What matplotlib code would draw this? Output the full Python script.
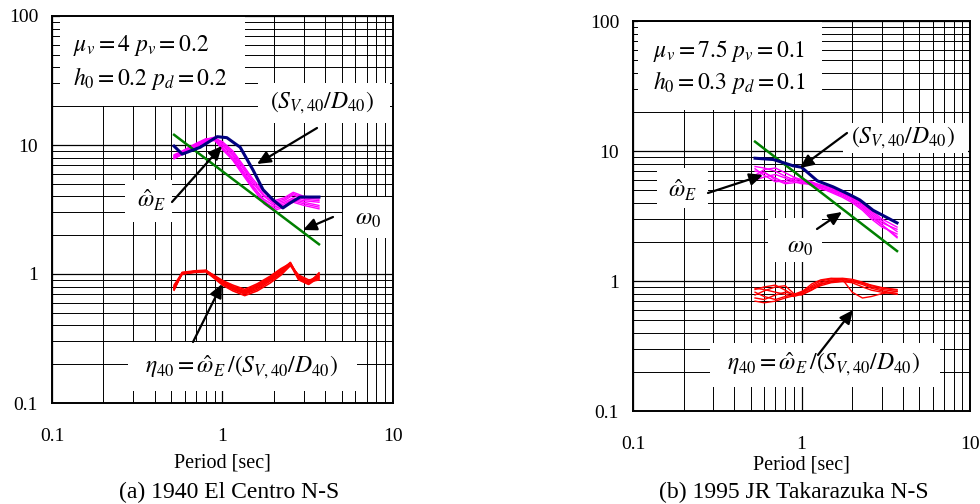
import matplotlib
matplotlib.use("Agg")
import matplotlib.pyplot as plt
from matplotlib.patches import Rectangle, FancyArrowPatch
from matplotlib.ticker import LogLocator, NullFormatter

plt.rcParams['font.family'] = ['Liberation Serif', 'DejaVu Serif']
plt.rcParams['mathtext.fontset'] = 'stix'

# ---------------- data: (a) 1940 El Centro N-S ----------------
a_green_T = [0.52, 3.68]
a_green_v = [12.0, 1.70]

a_blue_T = [0.52, 0.58, 0.74, 0.93, 1.06, 1.27, 1.51, 1.73, 1.98, 2.26, 2.49, 2.85, 3.68]
a_blue_v = [9.8, 8.5, 9.6, 11.6, 11.4, 9.6, 6.4, 4.5, 3.75, 3.25, 3.55, 3.95, 3.95]

a_mag_T = [0.52, 0.6, 0.7, 0.8, 0.9, 1.0, 1.15, 1.3, 1.5, 1.75, 2.0, 2.3, 2.6, 3.0, 3.68]
a_mag_1 = [7.8, 8.7, 9.9, 11.0, 11.4, 10.3, 8.8, 7.0, 5.3, 4.1, 3.6, 3.8, 4.2, 3.9, 3.8]
a_mag_2 = [8.2, 9.0, 10.1, 10.9, 11.0, 9.6, 8.0, 6.3, 4.8, 3.8, 3.4, 3.6, 3.9, 3.7, 3.6]
a_mag_3 = [8.4, 9.2, 10.3, 11.2, 11.0, 9.2, 7.6, 6.0, 4.6, 3.6, 3.3, 3.5, 3.8, 3.6, 3.4]
a_mag_4 = [7.9, 8.6, 9.6, 10.6, 11.3, 10.6, 9.0, 7.2, 5.5, 4.3, 3.7, 3.9, 4.3, 4.0, 3.9]
a_mag_5 = [8.1, 8.9, 9.8, 10.7, 11.1, 9.9, 8.3, 6.5, 4.9, 3.7, 3.2, 3.4, 3.7, 3.5, 3.3]
a_mag_6 = [8.0, 8.8, 10.0, 11.1, 11.5, 10.1, 8.5, 6.8, 5.1, 4.0, 3.5, 3.7, 4.1, 3.8, 3.7]
a_mag_7 = [8.3, 9.1, 10.2, 10.8, 10.8, 9.4, 7.8, 6.2, 4.7, 3.5, 3.1, 3.3, 3.6, 3.4, 3.2]

a_red_T = [0.52, 0.58, 0.7, 0.8, 0.9, 1.0, 1.15, 1.35, 1.6, 1.9, 2.2, 2.5, 2.8, 3.2, 3.68]
a_red_1 = [0.75, 1.02, 1.05, 1.06, 0.95, 0.86, 0.78, 0.72, 0.80, 0.92, 1.05, 1.20, 0.92, 0.88, 0.98]
a_red_2 = [0.80, 1.00, 1.04, 1.05, 0.93, 0.84, 0.76, 0.70, 0.76, 0.88, 1.00, 1.22, 0.95, 0.85, 1.00]
a_red_3 = [0.78, 1.03, 1.06, 1.07, 0.96, 0.88, 0.80, 0.74, 0.82, 0.94, 1.08, 1.18, 0.90, 0.83, 0.94]
a_red_4 = [0.76, 1.01, 1.03, 1.04, 0.92, 0.82, 0.74, 0.68, 0.74, 0.85, 0.98, 1.16, 0.98, 0.90, 0.92]
a_red_5 = [0.82, 1.02, 1.05, 1.06, 0.97, 0.89, 0.82, 0.76, 0.84, 0.96, 1.10, 1.21, 0.93, 0.86, 0.96]
a_red_6 = [0.77, 1.00, 1.04, 1.05, 0.94, 0.85, 0.77, 0.71, 0.78, 0.90, 1.03, 1.19, 0.96, 0.87, 0.90]
a_red_7 = [0.79, 1.01, 1.05, 1.06, 0.95, 0.87, 0.79, 0.73, 0.81, 0.91, 1.06, 1.23, 0.91, 0.84, 1.02]

# ---------------- data: (b) 1995 JR Takarazuka N-S ----------------
b_green_T = [0.53, 3.69]
b_green_v = [11.8, 1.70]

b_blue_T = [0.53, 0.68, 0.89, 1.0, 1.24, 1.54, 1.94, 2.22, 2.66, 3.69]
b_blue_v = [8.8, 8.6, 7.7, 7.5, 5.9, 5.3, 4.6, 4.2, 3.5, 2.8]

b_mag_T = [0.53, 0.6, 0.7, 0.8, 0.9, 1.0, 1.15, 1.3, 1.5, 1.75, 2.0, 2.3, 2.6, 3.0, 3.69]
b_mag_1 = [7.6, 7.4, 7.0, 6.4, 6.0, 5.7, 5.5, 5.3, 5.0, 4.7, 4.3, 3.8, 3.3, 2.8, 2.5]
b_mag_2 = [6.0, 6.3, 6.6, 6.2, 5.8, 5.6, 5.6, 5.4, 5.1, 4.7, 4.4, 3.9, 3.4, 2.9, 2.4]
b_mag_3 = [7.0, 6.8, 6.2, 5.7, 5.9, 6.1, 5.8, 5.4, 4.9, 4.5, 4.1, 3.6, 3.1, 2.7, 2.2]
b_mag_4 = [6.5, 7.2, 7.4, 6.8, 6.3, 6.0, 5.6, 5.2, 4.8, 4.4, 4.0, 3.5, 3.0, 2.6, 2.3]
b_mag_5 = [7.3, 6.5, 5.8, 5.9, 6.2, 5.9, 5.4, 5.1, 4.9, 4.6, 4.2, 3.7, 3.2, 2.7, 2.15]
b_mag_6 = [6.3, 6.9, 6.0, 5.6, 5.7, 5.8, 5.7, 5.5, 5.2, 4.8, 4.5, 4.0, 3.5, 3.0, 2.6]

b_red_T = [0.53, 0.6, 0.7, 0.8, 0.9, 1.0, 1.15, 1.3, 1.5, 1.75, 2.0, 2.3, 2.6, 3.0, 3.69]
b_red_1 = [0.86, 0.90, 0.93, 0.85, 0.78, 0.80, 0.92, 1.00, 1.04, 1.05, 1.03, 0.98, 0.92, 0.88, 0.85]
b_red_2 = [0.70, 0.68, 0.70, 0.74, 0.77, 0.82, 0.95, 1.02, 1.05, 1.04, 1.00, 0.96, 0.90, 0.86, 0.83]
b_red_3 = [0.78, 0.84, 0.90, 0.92, 0.80, 0.78, 0.85, 0.94, 1.00, 1.02, 1.01, 0.97, 0.93, 0.89, 0.86]
b_red_4 = [0.74, 0.72, 0.78, 0.82, 0.79, 0.83, 0.90, 0.97, 1.02, 1.03, 0.82, 0.74, 0.76, 0.80, 0.83]
b_red_5 = [0.82, 0.76, 0.72, 0.76, 0.78, 0.81, 0.88, 0.95, 0.98, 1.00, 0.99, 0.94, 0.88, 0.84, 0.80]
b_red_6 = [0.88, 0.86, 0.82, 0.79, 0.76, 0.79, 0.86, 0.92, 0.97, 0.99, 0.97, 0.90, 0.85, 0.82, 0.79]

tick_vals = [0.1, 1, 10]
tick_labels = ["0.1", "1", "10"]
ytick_vals = [0.1, 1, 10, 100]
ytick_labels = ["0.1", "1", "10", "100"]

W, H = 980, 504
fig = plt.figure(figsize=(W / 100, H / 100), dpi=100)

MATH = 17


def fx(x):
    return x / W


def fy(y):
    return 1 - y / H


def make_axes(x0, y0, x1, y1):
    ax = fig.add_axes([fx(x0), fy(y1), fx(x1) - fx(x0), fy(y0) - fy(y1)])
    ax.set_xscale('log')
    ax.set_yscale('log')
    ax.set_xlim(0.1, 10)
    ax.set_ylim(0.1, 100)
    ax.set_axisbelow(True)
    ax.set_xticks(tick_vals)
    ax.set_xticklabels(tick_labels)
    ax.set_yticks(ytick_vals)
    ax.set_yticklabels(ytick_labels)
    ax.xaxis.set_minor_locator(LogLocator(base=10, subs=range(2, 10), numticks=20))
    ax.yaxis.set_minor_locator(LogLocator(base=10, subs=range(2, 10), numticks=20))
    ax.xaxis.set_minor_formatter(NullFormatter())
    ax.yaxis.set_minor_formatter(NullFormatter())
    ax.grid(True, which='major', color='black', lw=0.9)
    ax.grid(True, which='minor', color='black', lw=0.7)
    ax.tick_params(which='both', length=0, labelsize=14)
    ax.tick_params(axis='x', pad=18)
    ax.tick_params(axis='y', pad=10)
    for s in ax.spines.values():
        s.set_linewidth(1.4)
        s.set_color('black')
    return ax


def box(ax, x0, y0, x1, y1):
    ax.add_patch(Rectangle((fx(x0), fy(y1)), fx(x1) - fx(x0), fy(y0) - fy(y1),
                           transform=fig.transFigure, facecolor='white',
                           edgecolor='none', zorder=1))


def label(x, y, s, size=MATH, ha='center'):
    fig.text(fx(x), fy(y), s, ha=ha, va='center', fontsize=size, zorder=5)


def arrow(x0, y0, x1, y1):
    fig.add_artist(FancyArrowPatch(
        (fx(x0), fy(y0)), (fx(x1), fy(y1)), transform=fig.transFigure,
        arrowstyle='-|>,head_length=5,head_width=2.3', color='black',
        lw=1.6, mutation_scale=1.6, shrinkA=0, shrinkB=0, zorder=6))


# ---------------- panel (a) ----------------
axa = make_axes(52, 16, 393, 403)
for v in [a_mag_1, a_mag_2, a_mag_3, a_mag_4, a_mag_5, a_mag_6, a_mag_7]:
    axa.plot(a_mag_T, v, color='#FF00FF', lw=1.0, zorder=2)
for v in [a_red_1, a_red_2, a_red_3, a_red_4, a_red_5, a_red_6, a_red_7]:
    axa.plot(a_red_T, v, color='#FF0000', lw=1.2, zorder=2)
axa.plot(a_green_T, a_green_v, color='#008000', lw=1.8, zorder=2.1)
axa.plot(a_blue_T, a_blue_v, color='#000080', lw=2.2, zorder=2.2)

box(axa, 60, 14, 245, 106)
box(axa, 258, 83, 390, 123)
box(axa, 125, 180, 172, 222)
box(axa, 343, 197, 393, 238)
box(axa, 128, 342, 357, 391)

label(73, 45, r'$\mu_v = 4\ p_v = 0.2$', ha='left')
label(73, 78, r'$h_0 = 0.2\ p_d = 0.2$', ha='left')
label(322, 103, r'$\left(S_{V,40}/D_{40}\right)$')
label(152, 200, r'$\hat{\omega}_E$')
label(368, 219, r'$\omega_0$')
label(242, 367, r'$\eta_{40} = \hat{\omega}_E\,/\left(S_{V,40}/D_{40}\right)$')

arrow(317, 128, 257, 164)
arrow(172, 202, 222, 146)
arrow(333, 217, 303, 230)
arrow(193, 342, 222, 284)

label(222, 463, 'Period [sec]', size=14.5)
label(229, 492, '(a) 1940 El Centro N-S', size=17)

# ---------------- panel (b) ----------------
axb = make_axes(633, 21, 970, 411)
for v in [b_mag_1, b_mag_2, b_mag_3, b_mag_4, b_mag_5, b_mag_6]:
    axb.plot(b_mag_T, v, color='#FF00FF', lw=1.0, zorder=2)
for v in [b_red_1, b_red_2, b_red_3, b_red_4, b_red_5, b_red_6]:
    axb.plot(b_red_T, v, color='#FF0000', lw=1.0, zorder=2)
axb.plot(b_green_T, b_green_v, color='#008000', lw=1.8, zorder=2.1)
axb.plot(b_blue_T, b_blue_v, color='#000080', lw=2.2, zorder=2.2)

box(axb, 638, 22, 822, 110)
box(axb, 843, 123, 968, 153)
box(axb, 657, 168, 708, 208)
box(axb, 768, 218, 822, 262)
box(axb, 710, 343, 940, 387)

label(653, 51, r'$\mu_v = 7.5\ p_v = 0.1$', ha='left')
label(653, 83, r'$h_0 = 0.3\ p_d = 0.1$', ha='left')
label(903, 138, r'$\left(S_{V,40}/D_{40}\right)$')
label(683, 190, r'$\hat{\omega}_E$')
label(800, 247, r'$\omega_0$')
label(824, 364, r'$\eta_{40} = \hat{\omega}_E\,/\left(S_{V,40}/D_{40}\right)$')

arrow(847, 133, 800, 168)
arrow(708, 193, 763, 175)
arrow(817, 229, 842, 212)
arrow(818, 355, 853, 310)

label(801, 465, 'Period [sec]', size=14.5)
label(794, 492, '(b) 1995 JR Takarazuka N-S', size=17)

fig.savefig('out.png', dpi=100)
